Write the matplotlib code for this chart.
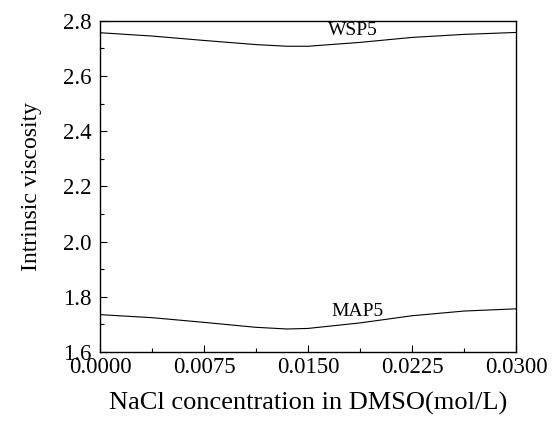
import numpy as np
import matplotlib.pyplot as plt
from matplotlib.ticker import MultipleLocator, FormatStrFormatter

plt.rcParams['font.family'] = ['Liberation Serif', 'DejaVu Serif']

# NaCl concentration (mol/L)
conc = [0.0, 0.00375, 0.0075, 0.01125, 0.0135, 0.015, 0.01875, 0.0225, 0.02625, 0.03]
wsp5 = [2.757, 2.745, 2.729, 2.714, 2.708, 2.708, 2.722, 2.740, 2.751, 2.758]
map5 = [1.735, 1.724, 1.707, 1.689, 1.683, 1.685, 1.705, 1.731, 1.748, 1.756]

fig = plt.figure(figsize=(5.53, 4.26), dpi=100)
ax = fig.add_axes([0.181, 0.174, 0.752, 0.777])

ax.plot(conc, wsp5, color='black', lw=0.8)
ax.plot(conc, map5, color='black', lw=0.8)

ax.text(0.0182, 2.766, 'WSP5', fontsize=14, ha='center', va='center')
ax.text(0.0186, 1.746, 'MAP5', fontsize=14, ha='center', va='center')

ax.set_xlim(0, 0.03)
ax.set_ylim(1.6, 2.8)
ax.xaxis.set_major_locator(MultipleLocator(0.0075))
ax.xaxis.set_minor_locator(MultipleLocator(0.00375))
ax.yaxis.set_major_locator(MultipleLocator(0.2))
ax.yaxis.set_minor_locator(MultipleLocator(0.1))
ax.xaxis.set_major_formatter(FormatStrFormatter('%.4f'))
ax.yaxis.set_major_formatter(FormatStrFormatter('%.1f'))
ax.tick_params(which='both', direction='in', labelsize=16.5, top=False, right=False)
ax.tick_params(which='major', length=5, width=0.8)
ax.tick_params(which='minor', length=3, width=0.8)
ax.tick_params(axis='y', pad=6)
ax.tick_params(axis='x', pad=4)
for s in ax.spines.values():
    s.set_linewidth(1.0)

ax.set_xlabel('NaCl concentration in DMSO(mol/L)', fontsize=19, labelpad=10)
ax.set_ylabel('Intrinsic viscosity', fontsize=17, labelpad=15)

fig.savefig('out.png', dpi=100)
